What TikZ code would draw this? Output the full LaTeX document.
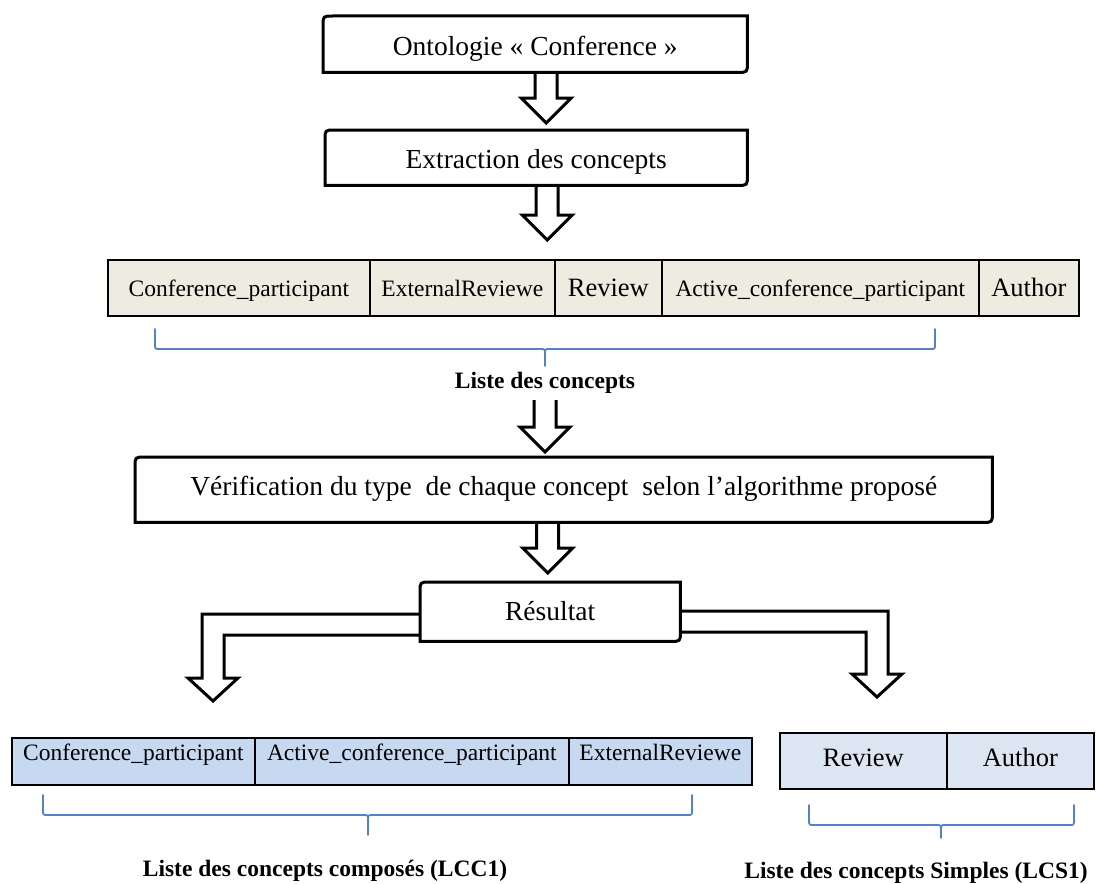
\documentclass[tikz,border=0pt]{standalone}
\usepackage{fontspec}
\setmainfont{Liberation Serif}
\usetikzlibrary{calc}

\definecolor{tanfill}{RGB}{238,236,225}
\definecolor{lccfill}{RGB}{198,217,241}
\definecolor{lcsfill}{RGB}{220,230,242}
\definecolor{bracecol}{RGB}{84,130,196}

\newcommand\bigtxt{\fontsize{27.5}{33}\selectfont}
\newcommand\midtxt{\fontsize{26.5}{32}\selectfont}
\newcommand\smalltxt{\fontsize{23.5}{28}\selectfont}

\tikzset{
  flowbox/.style={anchor=north west, inner sep=0pt, font=\bigtxt},
  outline/.style={line width=3pt, line join=miter, draw=black},
  cell/.style={draw=black, line width=1.7pt, anchor=north west, inner sep=0pt, font=\smalltxt},
  listlabel/.style={anchor=base, inner sep=0pt, font=\smalltxt\bfseries},
  bracepath/.style={draw=bracecol, line width=1.8pt, line cap=round, line join=round}
}

% outline with rounded top-left and bottom-right corners
\newcommand\diagoutline[1]{%
  \draw[outline] (#1.south west) -- ([yshift=-10pt]#1.north west)
    .. controls (#1.north west) .. ([xshift=10pt]#1.north west)
    -- (#1.north east) -- ([yshift=10pt]#1.south east)
    .. controls (#1.south east) .. ([xshift=-10pt]#1.south east) -- cycle;}

% hollow block arrow pointing down: #1 start of the shaft, #2 tip
\newcommand\blockdown[2]{%
  \draw[outline] let \p1=(#1), \p2=(#2) in
    (\x1-11pt,\y1) -- (\x1-11pt,\y2+25pt) -- (\x1-25pt,\y2+25pt) -- (\x1,\y2)
    -- (\x1+25pt,\y2+25pt) -- (\x1+11pt,\y2+25pt) -- (\x1+11pt,\y1);}

% brace under a list: left x, right x, top y, line y, tip x, tip y
\newcommand\listbrace[6]{%
  \draw[bracepath] (#1,#3) -- (#1,#4-5) .. controls (#1,#4) .. (#1+5,#4)
    -- (#5-5,#4) .. controls (#5,#4) .. (#5,#4+5) -- (#5,#6);
  \draw[bracepath] (#5,#4+5) .. controls (#5,#4) .. (#5+5,#4)
    -- (#2-5,#4) .. controls (#2,#4) .. (#2,#4-5) -- (#2,#3);}

\begin{document}
\begin{tikzpicture}[x=1pt,y=-1pt]
\useasboundingbox (0,0) rectangle (1099,883);
\fill[white] (0,0) rectangle (1099,883);

% process boxes
\node[flowbox, minimum width=424pt, text height=39pt, text depth=17pt] (onto) at (323,16) {Ontologie « Conference »};
\node[flowbox, minimum width=422pt, text height=38pt, text depth=17pt] (extr) at (325,130) {Extraction des concepts};
\node[flowbox, minimum width=857pt, text height=38pt, text depth=27pt] (verif) at (135,457) {Vérification du type\ \ de chaque concept\ \ selon l’algorithme proposé};
\node[flowbox, minimum width=260pt, text height=38pt, text depth=21pt] (res) at (420,582) {Résultat};
\foreach \b in {onto,extr,verif,res} {\diagoutline{\b}}

% list of extracted concepts
\node[cell, fill=tanfill, minimum width=262pt, text height=37pt, text depth=19pt] (c1) at (107,259) {Conference\_participant};
\node[cell, fill=tanfill, minimum width=185pt, text height=37pt, text depth=19pt] (c2) at (369,259) {ExternalReviewe};
\node[cell, fill=tanfill, minimum width=107pt, text height=37pt, text depth=19pt, font=\midtxt] (c3) at (554,259) {Review};
\node[cell, fill=tanfill, minimum width=317pt, text height=37pt, text depth=19pt] (c4) at (661,259) {Active\_conference\_participant};
\node[cell, fill=tanfill, minimum width=100pt, text height=37pt, text depth=19pt, font=\midtxt] (c5) at (978,259) {Author};
\listbrace{155}{935}{329}{349}{545}{366}
\node[listlabel] (lst) at (545,388) {Liste des concepts};

% compound concepts
\node[cell, fill=lccfill, minimum width=243pt, text height=23pt, text depth=24pt] (k1) at (11,737) {Conference\_participant};
\node[cell, fill=lccfill, minimum width=314pt, text height=23pt, text depth=24pt] (k2) at (254,737) {Active\_conference\_participant};
\node[cell, fill=lccfill, minimum width=183pt, text height=23pt, text depth=24pt] (k3) at (568,737) {ExternalReviewe};
\listbrace{43}{692}{795}{815}{368}{835}
\node[listlabel] (lcc) at (325,876) {Liste des concepts composés (LCC1)};

% simple concepts
\node[cell, fill=lcsfill, minimum width=167pt, text height=34pt, text depth=22pt, font=\midtxt] (s1) at (779,732) {Review};
\node[cell, fill=lcsfill, minimum width=147pt, text height=34pt, text depth=22pt, font=\midtxt] (s2) at (946,732) {Author};
\listbrace{809}{1074}{805}{825}{941}{838}
\node[listlabel] (lcs) at (916,878) {Liste des concepts Simples (LCS1)};

% straight block arrows
\blockdown{[xshift=11pt]onto.south}{[yshift=7pt]extr.north}
\blockdown{[xshift=11pt]extr.south}{[yshift=19pt]c3.north}
\blockdown{[yshift=-12pt]lst.base}{[yshift=5pt]verif.north}
\blockdown{[xshift=-16pt]verif.south}{[yshift=9pt]res.north}

% bent block arrows out of the result box
\coordinate (lcctip) at (213,701);
\coordinate (lcstip) at (877,697);
\draw[outline] let \p1=(res.north west), \p2=(lcctip) in
  (\x1,\y1-32pt) -- (\x2-11pt,\y1-32pt) -- (\x2-11pt,\y2+23pt) -- (\x2-25pt,\y2+23pt)
  -- (\x2,\y2) -- (\x2+25pt,\y2+23pt) -- (\x2+11pt,\y2+23pt) -- (\x2+11pt,\y1-53pt) -- (\x1,\y1-53pt);
\draw[outline] let \p1=(res.north east), \p2=(lcstip) in
  (\x1,\y1-29pt) -- (\x2+11pt,\y1-29pt) -- (\x2+11pt,\y2+23pt) -- (\x2+25pt,\y2+23pt)
  -- (\x2,\y2) -- (\x2-25pt,\y2+23pt) -- (\x2-11pt,\y2+23pt) -- (\x2-11pt,\y1-50pt) -- (\x1,\y1-50pt);
\end{tikzpicture}
\end{document}
